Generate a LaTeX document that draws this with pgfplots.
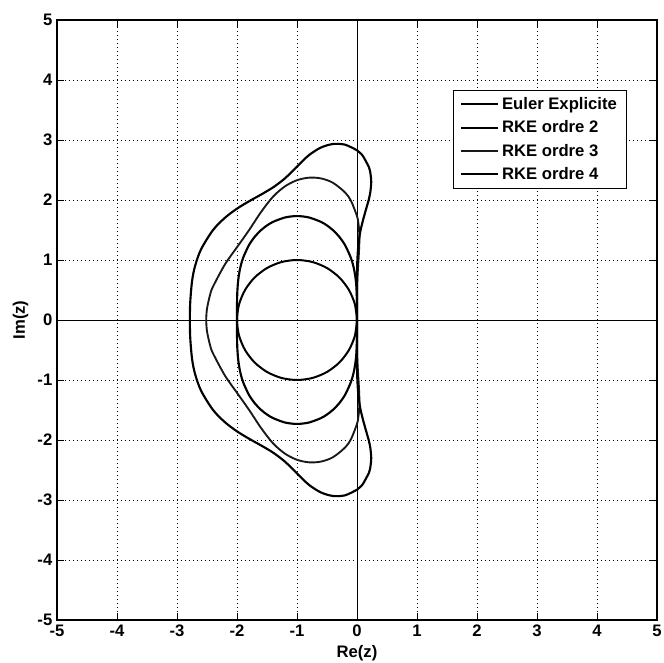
\documentclass[border=0pt]{standalone}
\usepackage{fontspec}
\setmainfont{Liberation Sans}
\usepackage{pgfplots}
\pgfplotsset{compat=1.18}
\begin{document}
\begin{tikzpicture}
\begin{axis}[
 name=ax,
 width=450pt, height=450pt, scale only axis,
 xmin=-5, xmax=5, ymin=-5, ymax=5,
 xtick={-5,...,5}, ytick={-5,...,5},
 xticklabels={-5,-4,-3,-2,-1,0,1,2,3,4,5},
 yticklabels={-5,-4,-3,-2,-1,0,1,2,3,4,5},
 ticklabel style={font=\fontsize{12.5}{14}\selectfont\bfseries},
 label style={font=\fontsize{12.5}{14}\selectfont\bfseries},
 xlabel={Re(z)}, ylabel={Im(z)},
 grid=major,
 major grid style={black, line width=0.6pt, dash pattern=on 0.6pt off 2.4pt},
 axis line style={line width=0.8pt},
 major tick length=5pt,
 tick style={black, line width=0.6pt},
 legend style={at={(axis cs:1.6,3.83)}, anchor=north west, draw=black, fill=white,
   font=\fontsize{12.5}{14}\selectfont\bfseries, row sep=3pt, inner xsep=5pt, inner ysep=3pt},
 legend cell align=left,
 legend image code/.code={\draw[#1] (0pt,0pt) -- (28pt,0pt);},
 every axis plot/.append style={line join=round},
]
\addplot[black, line width=0.7pt, forget plot] coordinates {(-5,0) (5,0)};
\addplot[black, line width=0.7pt, forget plot] coordinates {(0,-5) (0,5)};

% Euler explicite
\addplot[black, line width=1.5pt, smooth] coordinates {
(-0.0341,-0.2588) (0,0) (-0.0341,0.2588) (-0.1340,0.5) (-0.2929,0.7071) (-0.5,0.8660) (-0.7412,0.9659) (-1,1)
(-1.2588,0.9659) (-1.5,0.8660) (-1.7071,0.7071) (-1.8660,0.5) (-1.9659,0.2588) (-2,0)
(-1.9659,-0.2588) (-1.8660,-0.5) (-1.7071,-0.7071) (-1.5,-0.8660) (-1.2588,-0.9659) (-1,-1)
(-0.7412,-0.9659) (-0.5,-0.8660) (-0.2929,-0.7071) (-0.1340,-0.5) (-0.0341,-0.2588) (0,0) (-0.0341,0.2588)
};
\addlegendentry{Euler Explicite}

% RKE ordre 2
\addplot[black, line width=1.6pt, smooth] coordinates {
(-0.0005,-0.2534) (0,0) (-0.0005,0.2534) (-0.005,0.458) (-0.02,0.6615) (-0.05,0.8497) (-0.1,1.0304) (-0.2,1.249)
(-0.3,1.3922) (-0.4,1.4967) (-0.5,1.5755) (-0.6,1.6349) (-0.8,1.7087) (-1,1.7321) (-1.2,1.7087) (-1.4,1.6349)
(-1.5,1.5755) (-1.6,1.4967) (-1.7,1.3922) (-1.8,1.249) (-1.9,1.0304) (-1.95,0.8497) (-1.98,0.6615) (-1.995,0.458)
(-1.9995,0.2534) (-2,0)
(-1.9995,-0.2534) (-1.995,-0.458) (-1.98,-0.6615) (-1.95,-0.8497) (-1.9,-1.0304) (-1.8,-1.249) (-1.7,-1.3922)
(-1.6,-1.4967) (-1.5,-1.5755) (-1.4,-1.6349) (-1.2,-1.7087) (-1,-1.7321) (-0.8,-1.7087) (-0.6,-1.6349)
(-0.5,-1.5755) (-0.4,-1.4967) (-0.3,-1.3922) (-0.2,-1.249) (-0.1,-1.0304) (-0.05,-0.8497) (-0.02,-0.6615)
(-0.005,-0.458) (-0.0005,-0.2534) (0,0) (-0.0005,0.2534)
};
\addlegendentry{RKE ordre 2}

% RKE ordre 3
\addplot[black!90, line width=1.4pt, smooth] coordinates {
(0.002,-0.5) (0,0) (0.002,0.5) (0.0075,0.7) (0.02,0.924) (0.03,1.080) (0.0405,1.355) (0.03,1.5605) (0.02,1.634)
(0,1.7321) (-0.1,1.9862) (-0.2,2.1264) (-0.4,2.2866) (-0.6,2.3599) (-0.8,2.3722) (-1.0,2.3297) (-1.2,2.2281)
(-1.4,2.0549) (-1.6,1.7981) (-1.8,1.4964) (-2.0,1.2129) (-2.2,0.9284) (-2.4,0.556) (-2.45,0.4153) (-2.5,0.1875)
(-2.5127,0)
(-2.5,-0.1875) (-2.45,-0.4153) (-2.4,-0.556) (-2.2,-0.9284) (-2.0,-1.2129) (-1.8,-1.4964) (-1.6,-1.7981)
(-1.4,-2.0549) (-1.2,-2.2281) (-1.0,-2.3297) (-0.8,-2.3722) (-0.6,-2.3599) (-0.4,-2.2866) (-0.2,-2.1264)
(-0.1,-1.9862) (0,-1.7321) (0.02,-1.634) (0.03,-1.5605) (0.0405,-1.355) (0.03,-1.080) (0.02,-0.924)
(0.0075,-0.7) (0.002,-0.5) (0,0) (0.002,0.5)
};
\addlegendentry{RKE ordre 3}

% RKE ordre 4
\addplot[black, line width=1.6pt, smooth] coordinates {
(0.0008,-0.7) (0,0) (0.0008,0.7) (0.005,0.97) (0.02,1.22) (0.05,1.4466) (0.1,1.6634) (0.2,2.0194) (0.22,2.1158)
(0.237,2.30) (0.22,2.4711) (0.2,2.5453) (0.1,2.7311) (0.05,2.7858) (0,2.8284) (-0.2,2.9221) (-0.4,2.9329)
(-0.6,2.8748) (-0.8,2.7480) (-1.0,2.5577) (-1.2,2.3610) (-1.4,2.2095) (-1.6,2.0899) (-1.8,1.9782) (-2.0,1.8559)
(-2.2,1.7044) (-2.4,1.4985) (-2.6,1.1762) (-2.7,0.8946) (-2.75,0.6414) (-2.78,0.285) (-2.7853,0)
(-2.78,-0.285) (-2.75,-0.6414) (-2.7,-0.8946) (-2.6,-1.1762) (-2.4,-1.4985) (-2.2,-1.7044) (-2.0,-1.8559)
(-1.8,-1.9782) (-1.6,-2.0899) (-1.4,-2.2095) (-1.2,-2.3610) (-1.0,-2.5577) (-0.8,-2.7480) (-0.6,-2.8748)
(-0.4,-2.9329) (-0.2,-2.9221) (0,-2.8284) (0.05,-2.7858) (0.1,-2.7311) (0.2,-2.5453) (0.22,-2.4711)
(0.237,-2.30) (0.22,-2.1158) (0.2,-2.0194) (0.1,-1.6634) (0.05,-1.4466) (0.02,-1.22) (0.005,-0.97)
(0.0008,-0.7) (0,0) (0.0008,0.7)
};
\addlegendentry{RKE ordre 4}
\end{axis}
\pgfresetboundingbox
\path[use as bounding box] ([xshift=-42.75pt,yshift=-32.25pt]ax.south west) rectangle ([xshift=5.25pt,yshift=15pt]ax.north east);
\end{tikzpicture}
\end{document}
